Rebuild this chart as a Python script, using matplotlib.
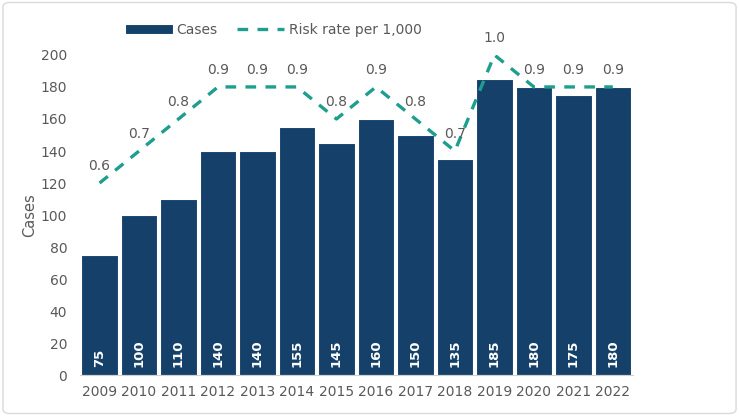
import matplotlib.pyplot as plt
from matplotlib.patches import FancyBboxPatch

# ------------------ DATA ------------------
years = [2009, 2010, 2011, 2012, 2013, 2014, 2015, 2016, 2017, 2018, 2019, 2020, 2021, 2022]
cases = [75, 100, 110, 140, 140, 155, 145, 160, 150, 135, 185, 180, 175, 180]
risk_rate = [0.6, 0.7, 0.8, 0.9, 0.9, 0.9, 0.8, 0.9, 0.8, 0.7, 1.0, 0.9, 0.9, 0.9]

BAR_COLOR = '#14406A'
LINE_COLOR = '#1E9E8E'
TEXT_COLOR = '#595959'

plt.rcParams['font.family'] = ['DejaVu Sans']

fig = plt.figure(figsize=(7.39, 4.16), dpi=100)
ax = fig.add_axes([0.108, 0.098, 0.748, 0.77])

x = list(range(len(years)))
bars = ax.bar(x, cases, width=0.92, color=BAR_COLOR, edgecolor='white', linewidth=0.8,
              label='Cases', zorder=2)
for xi, v in zip(x, cases):
    ax.text(xi, 5, str(v), rotation=90, ha='center', va='bottom', color='white',
            fontsize=9.5, fontweight='bold', zorder=4)

ax.set_ylim(0, 200)
ax.set_xlim(-0.5, len(years) - 0.5)
ax.set_yticks(range(0, 201, 20))
ax.set_xticks(x)
ax.set_xticklabels([str(y) for y in years])
ax.tick_params(axis='both', length=0, colors=TEXT_COLOR, labelsize=10, pad=7)
ax.tick_params(axis='y', pad=9)
for s in ['top', 'right', 'left']:
    ax.spines[s].set_visible(False)
ax.spines['bottom'].set_color('#D0D0D0')
ax.set_ylabel('Cases', color=TEXT_COLOR, fontsize=10.5, labelpad=3)

# secondary scale for risk rate (hidden)
ax2 = ax.twinx()
ax2.set_ylim(0, 1.0)
ax2.axis('off')
line, = ax2.plot(x, risk_rate, color=LINE_COLOR, linewidth=2.4, linestyle=(0, (3.2, 2.8)),
                 label='Risk rate per 1,000', zorder=3)
for xi, r in zip(x, risk_rate):
    ax2.annotate(f'{r:.1f}', (xi, r), xytext=(0, 7), textcoords='offset points',
                 ha='center', va='bottom', color=TEXT_COLOR, fontsize=10)

fig.legend(handles=[bars, line], loc='center', bbox_to_anchor=(0.37, 0.928), ncol=2,
           frameon=False, fontsize=10, labelcolor=TEXT_COLOR, handlelength=3.4,
           columnspacing=1.4, handletextpad=0.3)

border = FancyBboxPatch((0.004, 0.006), 0.992, 0.988, boxstyle='round,pad=0,rounding_size=0.01',
                        transform=fig.transFigure, facecolor='none', edgecolor='#DADADA',
                        linewidth=1.0)
fig.patches.append(border)

fig.savefig('out.png', dpi=100)
